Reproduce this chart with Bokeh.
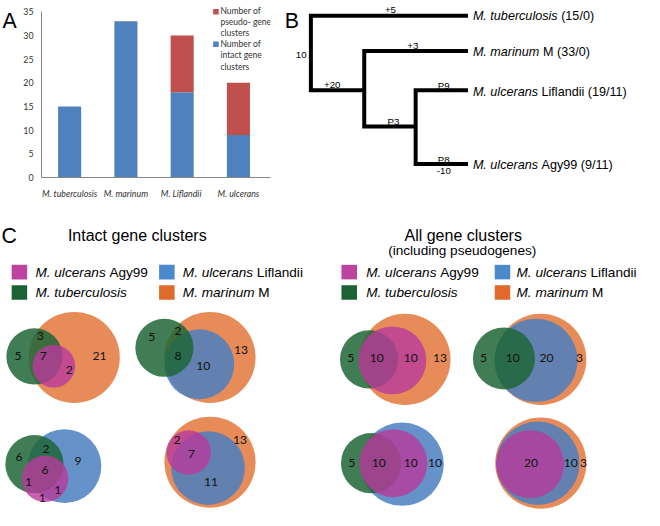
import numpy as np
from bokeh.plotting import figure
from bokeh.models import Range1d, FixedTicker, ColumnDataSource
from bokeh.layouts import row, column
from bokeh.core.properties import value
from bokeh.embed import file_html
from bokeh.resources import INLINE

S = 0.97  # reference pixel -> screen pixel

# ---------------- Panel A data ----------------
species = ["M. tuberculosis", "M. marinum", "M.  Liflandii", "M. ulcerans"]
intact = [15, 33, 18, 9]
pseudo = [0, 0, 12, 11]
y_ticks = [0, 5, 10, 15, 20, 25, 30, 35]
legend_pseudo = ["Number of", "pseudo- gene", "clusters"]
legend_intact = ["Number of", "intact gene", "clusters"]

# ---------------- Panel B data ----------------
tree_italic = ["M. tuberculosis", "M. marinum", "M. ulcerans", "M. ulcerans"]
tree_roman = ["(15/0)", "M (33/0)", "Liflandii (19/11)", "Agy99 (9/11)"]
branch_labels = ["10", "+5", "+20", "+3", "P3", "P9", "P8", "-10"]

# ---------------- Panel C data ----------------
sp_keys = ["agy", "tub", "lif", "mar"]
sp_italic = ["M. ulcerans", "M. tuberculosis", "M. ulcerans", "M. marinum"]
sp_roman = ["Agy99", "", "Liflandii", "M"]
venn_counts = [
    ["5", "3", "7", "2", "21"],
    ["5", "2", "8", "10", "13"],
    ["5", "10", "10", "13"],
    ["5", "10", "20", "3"],
    ["6", "2", "9", "6", "1", "1", "1"],
    ["2", "7", "13", "11"],
    ["5", "10", "10", "10"],
    ["20", "10", "3"],
]

# ---------------- colours ----------------
BAR_BLUE, BAR_RED = "#4F81BD", "#C0504D"
VENN_COL = {"mar": "#E06C2A", "lif": "#4A7FC0", "tub": "#1E6637", "agy": "#B9399C"}
VENN_ALPHA = {"mar": 0.78, "lif": 0.85, "tub": 0.85, "agy": 0.8}
LEG_COL = {"agy": "#BC44A0", "tub": "#1D6236", "lif": "#4A89CB", "mar": "#E06A2A"}

# ---------------- layout (reference pixel positions) ----------------
venn_circles = [  # (species, cx, cy, r)
    [("mar", 76, 368, 47), ("tub", 35, 367, 29), ("agy", 55, 377, 22)],
    [("mar", 216, 368, 47), ("lif", 205, 375, 36), ("tub", 169, 358, 30)],
    [("mar", 417, 370, 47), ("tub", 380, 370, 30), ("agy", 404, 371, 35)],
    [("mar", 557, 370, 47), ("lif", 552, 371, 43), ("tub", 519, 369, 32)],
    [("lif", 66, 480, 38), ("tub", 35, 478, 30), ("agy", 46, 493, 24)],
    [("mar", 216, 476, 47), ("lif", 214, 482, 38), ("agy", 194, 466, 23)],
    [("lif", 414, 478, 43), ("tub", 382, 477, 31), ("agy", 405, 477, 35)],
    [("mar", 557, 477, 47), ("lif", 554, 477, 43), ("agy", 546, 478, 35)],
]
venn_label_pos = [
    [(18, 367), (41, 346), (44, 367), (71, 381), (102, 367)],
    [(156, 347), (183, 341), (183, 367), (209, 377), (248, 360)],
    [(361, 369), (388, 369), (423, 369), (453, 369)],
    [(498, 369), (528, 369), (563, 369), (597, 369)],
    [(19, 471), (47, 462), (80, 475), (46, 484), (29, 496), (59, 505), (43, 513)],
    [(182, 453), (197, 468), (247, 453), (217, 496)],
    [(362, 477), (390, 477), (423, 477), (448, 477)],
    [(547, 477), (588, 477), (601, 477)],
]

FONT = "Liberation Sans"

# Arial / Liberation Sans advance widths (1/1000 em) for placing mixed-style text
_W = {" ": 278, ".": 278, "M": 833, "t": 278, "u": 556, "b": 556, "e": 556, "r": 333,
      "c": 500, "l": 222, "o": 556, "s": 500, "i": 222, "m": 833, "a": 556, "n": 556}


def text_width(s, size):
    return sum(_W.get(ch, 556) for ch in s) * size / 1000.0


def txt(p, x, y, text, size, style="normal", align="left", baseline="middle",
        font=FONT, color="#000000"):
    p.text(x=[x], y=[y], text=[text], text_font=value(font),
           text_font_size=f"{size * S:.1f}px", text_font_style=style,
           text_align=align, text_baseline=baseline, text_color=color)


def mixed(p, x, y, it, rm, size):
    txt(p, x, y, it, size, style="italic")
    if rm:
        txt(p, x + text_width(it + " ", size), y, rm, size)


def canvas(w_px, h_px, x0, y0):
    w_ref, h_ref = w_px / S, h_px / S
    p = figure(width=w_px, height=h_px,
               x_range=Range1d(x0, x0 + w_ref), y_range=Range1d(y0 + h_ref, y0),
               output_backend="svg", toolbar_location=None, min_border=0,
               x_axis_type=None, y_axis_type=None)
    p.outline_line_color = None
    p.background_fill_color = "white"
    return p


TOP_H = 206
BOT_H = 304

# ---------------- strip with letter A ----------------
pstrip = canvas(20, TOP_H, 0, 0)
txt(pstrip, 2, 21, "A", 22, baseline="alphabetic")

# ---------------- Panel A: bar chart ----------------
pa = figure(width=261, height=TOP_H, x_range=Range1d(0, 4.07), y_range=Range1d(0, 36.77),
            output_backend="svg", toolbar_location=None,
            min_border_left=20, min_border_right=11, min_border_top=3, min_border_bottom=29)
pa.outline_line_color = None
pa.grid.visible = False
xc = np.arange(len(species)) + 0.5
totals = (np.array(intact) + np.array(pseudo)).tolist()
src = ColumnDataSource(dict(x=xc.tolist(), intact=intact, total=totals))
pa.vbar(x="x", bottom=0, top="intact", width=0.41, source=src,
        fill_color=BAR_BLUE, line_color=None)
pa.vbar(x="x", bottom="intact", top="total", width=0.41, source=src,
        fill_color=BAR_RED, line_color=None)

pa.yaxis.ticker = FixedTicker(ticks=y_ticks)
pa.yaxis.bounds = (0, 35)
pa.yaxis.major_tick_out = 5
pa.yaxis.major_tick_in = 0
pa.yaxis.minor_tick_line_color = None
pa.yaxis.major_label_standoff = 3
pa.xaxis.ticker = FixedTicker(ticks=xc.tolist(), minor_ticks=list(range(len(species) + 1)))
pa.xaxis.major_label_overrides = {float(v): s for v, s in zip(xc, species)}
pa.xaxis.major_tick_out = 0
pa.xaxis.minor_tick_out = 4
pa.xaxis.minor_tick_in = 0
pa.xaxis.major_label_standoff = 6
pa.xaxis.major_label_text_font_style = "italic"
for ax in (pa.xaxis, pa.yaxis):
    ax.axis_line_color = "#868686"
    ax.major_tick_line_color = "#868686" if ax is pa.yaxis else None
    ax.minor_tick_line_color = "#868686" if ax is pa.xaxis else None
    ax.major_label_text_font = "Lato"
    ax.major_label_text_font_size = "8.8px"
    ax.major_label_text_color = "#333333"

# legend of panel A (data coordinates)
pa.scatter(x=[3.10, 3.10], y=[35.05, 28.15], marker="square", size=5.5,
           fill_color=[BAR_RED, BAR_BLUE], line_color=None)
for i, t in enumerate(legend_pseudo):
    txt(pa, 3.18, [35.12, 32.87, 30.61][i], t, 8.8, font="Lato", color="#333333")
for i, t in enumerate(legend_intact):
    txt(pa, 3.18, [28.15, 25.8, 23.43][i], t, 8.8, font="Lato", color="#333333")

# ---------------- Panel B: tree ----------------
pb = canvas(359, TOP_H, 289.7, 0)
txt(pb, 293, 21, "B", 22, baseline="alphabetic")
tree_xs = [[482, 320, 320, 375], [482, 375, 375, 428], [482, 428, 428, 482]]
tree_ys = [[15, 15, 106, 106], [58, 58, 150, 150], [106, 106, 196, 196]]
pb.multi_line(xs=tree_xs, ys=tree_ys, line_width=4, line_color="black",
              line_join="miter", line_cap="butt")
leaf_y = [15, 59, 108, 197]
for i in range(len(tree_italic)):
    mixed(pb, 487, leaf_y[i], tree_italic[i], tree_roman[i], 13)
branch_pos = [(310, 63), (402, 8), (342, 100), (425, 52), (405, 144), (457, 100), (457, 190), (457, 205)]
for lab, (bx, by) in zip(branch_labels, branch_pos):
    txt(pb, bx, by, lab, 10, align="center")

# ---------------- Panel C: Venn diagrams ----------------
pc = canvas(640, BOT_H, 0, 212.37)
txt(pc, 1, 243, "C", 22, baseline="alphabetic")
txt(pc, 141, 242, "Intact gene clusters", 16.5, align="center", baseline="alphabetic")
txt(pc, 477, 242, "All gene clusters", 16.5, align="center", baseline="alphabetic")
txt(pc, 476, 258, "(including pseudogenes)", 14, align="center", baseline="alphabetic")

# legends
leg_blocks = [
    dict(sq_x=[19.5, 19.5, 171.5, 171.5], it_x=[36, 36, 188, 188]),
    dict(sq_x=[359.5, 359.5, 517.5, 517.5], it_x=[377, 377, 532, 532]),
]
leg_rows = [280, 301, 280, 301]
for blk in leg_blocks:
    for i, k in enumerate(sp_keys):
        cx, cy = blk["sq_x"][i], leg_rows[i]
        pc.quad(left=[cx - 8], right=[cx + 8], top=[cy - 7.5], bottom=[cy + 7.5],
                fill_color=LEG_COL[k], line_color=None)
        mixed(pc, blk["it_x"][i], cy, sp_italic[i], sp_roman[i], 14)

# circles, drawn species by species (orange, blue, green, magenta)
for k in ["mar", "lif", "tub", "agy"]:
    cx, cy, rr = [], [], []
    for diag in venn_circles:
        for (sk, x, y, r) in diag:
            if sk == k:
                cx.append(x); cy.append(y); rr.append(r)
    pc.circle(x=cx, y=cy, radius=rr, fill_color=VENN_COL[k], fill_alpha=VENN_ALPHA[k],
              line_color=None)

for counts, poss in zip(venn_counts, venn_label_pos):
    for c, (lx, ly) in zip(counts, poss):
        txt(pc, lx, ly, c, 12.5, align="center", font="Lato", color="#111111")

layout = column(row(pstrip, pa, pb), pc)
open("out.html", "w").write(file_html(layout, INLINE))
